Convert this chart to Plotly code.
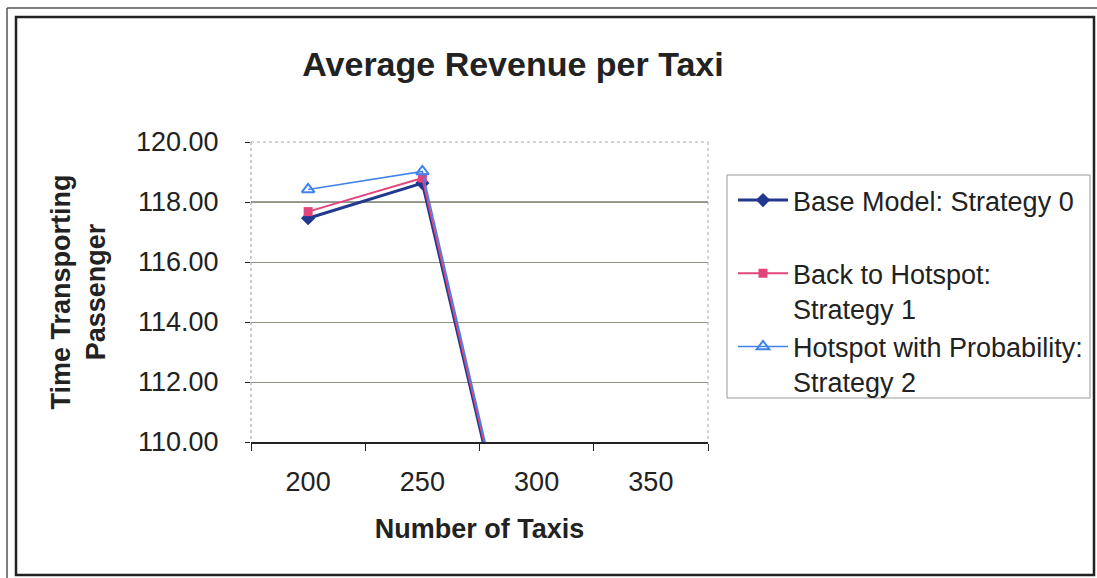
import plotly.graph_objects as go

# Data
taxis = ["200", "250", "300", "350"]
strategy0 = [117.46, 118.63, 102.4, 96.0]
strategy1 = [117.68, 118.80, 102.5, 96.2]
strategy2 = [118.42, 119.02, 102.6, 96.4]
series_names = [
    "Base Model: Strategy 0<br> ",
    "Back to Hotspot:<br>Strategy 1",
    "Hotspot with Probability:<br>Strategy 2",
]
y_ticks = [110, 112, 114, 116, 118, 120]

W, H = 1097, 578


def px(x):
    return x / W


def py(y):
    return 1 - y / H


FONT = "Liberation Sans, Arial, sans-serif"

fig = go.Figure()
fig.add_trace(go.Scatter(
    x=taxis, y=strategy0, name=series_names[0], mode="lines+markers",
    line=dict(color="#22388f", width=3),
    marker=dict(symbol="diamond", size=11, color="#22388f"),
))
fig.add_trace(go.Scatter(
    x=taxis, y=strategy1, name=series_names[1], mode="lines+markers",
    line=dict(color="#e2457c", width=2),
    marker=dict(symbol="square", size=9, color="#e2457c"),
))
fig.add_trace(go.Scatter(
    x=taxis, y=strategy2, name=series_names[2], mode="lines+markers",
    line=dict(color="#3f83ea", width=1.5),
    marker=dict(symbol="triangle-up-open", size=11, color="#3f83ea",
                line=dict(width=2, color="#3f83ea")),
))

shapes = []
# double frame around the chart
shapes.append(dict(type="line", xref="paper", yref="paper",
                   x0=px(7), x1=px(7), y0=py(8), y1=py(578),
                   line=dict(color="#555", width=1.5)))
shapes.append(dict(type="line", xref="paper", yref="paper",
                   x0=px(7), x1=px(1097), y0=py(8), y1=py(8),
                   line=dict(color="#555", width=1.5)))
shapes.append(dict(type="rect", xref="paper", yref="paper",
                   x0=px(16), x1=px(1094), y0=py(17), y1=py(575),
                   line=dict(color="#222", width=2.5)))
# legend box
shapes.append(dict(type="rect", xref="paper", yref="paper",
                   x0=px(727), x1=px(1090), y0=py(175), y1=py(398),
                   line=dict(color="#999", width=1)))
# plot area border (top, right, left)
shapes.append(dict(type="line", xref="paper", yref="paper",
                   x0=px(251), x1=px(708), y0=py(142), y1=py(142),
                   line=dict(color="#aaa", width=1, dash="dot")))
shapes.append(dict(type="line", xref="paper", yref="paper",
                   x0=px(708), x1=px(708), y0=py(142), y1=py(442),
                   line=dict(color="#aaa", width=1, dash="dot")))
shapes.append(dict(type="line", xref="paper", yref="paper",
                   x0=px(251), x1=px(251), y0=py(142), y1=py(442),
                   line=dict(color="#999", width=1, dash="dot")))
# emphasised 118 gridline
shapes.append(dict(type="line", xref="paper", yref="y",
                   x0=px(251), x1=px(708), y0=118, y1=118,
                   line=dict(color="#3a3a30", width=1.2), layer="below"))

fig.update_layout(
    template="none",
    width=W, height=H,
    margin=dict(l=0, r=0, t=0, b=0, pad=0, autoexpand=False),
    paper_bgcolor="white", plot_bgcolor="white",
    font=dict(family=FONT, color="#222", size=27),
    title=dict(text="<b>Average Revenue per Taxi</b>", x=px(513), xanchor="center",
               xref="container", yref="container",
               y=py(64), yanchor="middle", font=dict(size=34, color="#222")),
    xaxis=dict(
        domain=[px(251), px(708)], type="category", tickson="boundaries",
        range=[-0.5, 3.5], autorange=False,
        ticks="outside", ticklen=7, tickcolor="#222", tickwidth=1.2,
        showline=True, linecolor="#222", linewidth=1.5,
        showgrid=False, ticklabelstandoff=15, automargin=False,
        title=dict(text="<b>Number of Taxis</b>", standoff=23,
                   font=dict(size=27)),
        tickfont=dict(size=27),
    ),
    yaxis=dict(
        domain=[py(442), py(142)], range=[110, 120],
        tickvals=y_ticks, tickformat=".2f",
        ticks="outside", ticklen=5, tickcolor="#222",
        showline=False,
        showgrid=True, gridcolor="#8f957f", gridwidth=1,
        zeroline=False, ticklabelstandoff=21, automargin=False,
        title=dict(text="<b>Time Transporting<br>Passenger</b>", standoff=22,
                   font=dict(size=27)),
        tickfont=dict(size=27),
    ),
    legend=dict(
        x=px(733), xanchor="left", y=py(176), yanchor="top",
        valign="top", bgcolor="rgba(0,0,0,0)", borderwidth=0,
        itemwidth=50, tracegroupgap=0,
        font=dict(size=27, color="#222"),
    ),
    shapes=shapes,
    showlegend=True,
)

fig.write_html("out.html")
